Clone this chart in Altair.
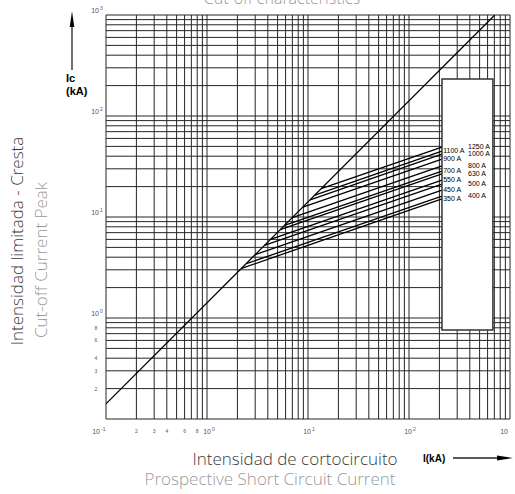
import altair as alt
import pandas as pd

# ---- data ----
mantissas = [1, 2, 3, 4, 5, 6, 7, 8, 9]
decades = [0.1, 1, 10, 100]
grid_vals = [round(m * d, 4) for d in decades for m in mantissas] + [1000]

diag_x = [0.1, 707]
diag_y = [0.1414, 1000]

ratings = ["350 A", "400 A", "450 A", "500 A", "550 A", "630 A",
           "700 A", "800 A", "900 A", "1000 A", "1100 A", "1250 A"]
knee_x = [2.2, 2.45, 3.0, 3.7, 4.25, 5.3, 5.85, 7.0, 8.9, 10.5, 11.7, 13.5]
knee_y = [3.1, 3.45, 4.25, 5.25, 6.0, 7.5, 8.25, 9.85, 12.5, 14.8, 16.5, 19.1]
end_x = [212] * 12
end_y = [15.1, 16.1, 18.5, 21.2, 23.2, 26.7, 28.5, 32.0, 37.5, 42.0, 45.0, 49.3]
label_x = [218, 384, 218, 384, 218, 384, 218, 384, 218, 384, 218, 384]

box_x = [212]; box_x2 = [677]; box_y = [0.76]; box_y2 = [232]

# major tick labels: value, exponent, pixel nudge of the label anchor
xmaj_vals = [0.1, 1, 10, 100, 1000]
xmaj_exp = ["-1", "0", "1", "2", ""]
xmaj_dx = [-6, 4, 3, 3, -2]
xminor_vals = [0.2, 0.3, 0.4, 0.6, 0.8]
xminor_text = ["2", "3", "4", "6", "8"]
ymaj_vals = [1000, 100, 10, 1]
ymaj_exp = ["3", "2", "1", "0"]
yminor_vals = [0.8, 0.6, 0.4, 0.3, 0.2]
yminor_text = ["8", "6", "4", "3", "2"]

# ---- tables ----
grid_df = pd.DataFrame({"v": grid_vals})
diag_df = pd.DataFrame({"x": diag_x, "y": diag_y})
rows = []
for r, kx, ky, ex, ey in zip(ratings, knee_x, knee_y, end_x, end_y):
    rows.append({"r": r, "x": kx, "y": ky, "o": 0})
    rows.append({"r": r, "x": ex, "y": ey, "o": 1})
curve_df = pd.DataFrame(rows)
lab_df = pd.DataFrame({"r": ratings, "x": label_x, "y": end_y})
box_df = pd.DataFrame({"x": box_x, "x2": box_x2, "y": box_y, "y2": box_y2})

xs = alt.Scale(type="log", domain=[0.1, 1000], nice=False)
ys = alt.Scale(type="log", domain=[0.1, 1000], nice=False)
gridc = "#262626"

gx = alt.Chart(grid_df).mark_rule(color=gridc, strokeWidth=1).encode(
    x=alt.X("v:Q", scale=xs, axis=None))
gy = alt.Chart(grid_df).mark_rule(color=gridc, strokeWidth=1).encode(
    y=alt.Y("v:Q", scale=ys, axis=None))

diag = alt.Chart(diag_df).mark_line(color="black", strokeWidth=1.3, clip=True).encode(
    x=alt.X("x:Q", scale=xs, axis=None), y=alt.Y("y:Q", scale=ys, axis=None))

curves = alt.Chart(curve_df).mark_line(color="black", strokeWidth=1.3, clip=True).encode(
    x=alt.X("x:Q", scale=xs, axis=None), y=alt.Y("y:Q", scale=ys, axis=None),
    detail="r:N", order="o:Q")

box = alt.Chart(box_df).mark_rect(fill="white", stroke="#333333", strokeWidth=1.5).encode(
    x=alt.X("x:Q", scale=xs, axis=None), x2="x2:Q",
    y=alt.Y("y:Q", scale=ys, axis=None), y2="y2:Q")

labs = alt.Chart(lab_df).mark_text(align="left", baseline="middle", fontSize=7,
                                   font="Liberation Sans", color="black").encode(
    x=alt.X("x:Q", scale=xs, axis=None), y=alt.Y("y:Q", scale=ys, axis=None), text="r:N")

tickc = "#555555"
tick_layers = []
for v, e, d in zip(xmaj_vals, xmaj_exp, xmaj_dx):
    df = pd.DataFrame({"v": [v], "b": ["10"], "e": [e]})
    tick_layers.append(alt.Chart(df).mark_text(
        align="right", baseline="middle", fontSize=7, font="Liberation Sans",
        color=tickc, dx=d).encode(
        x=alt.X("v:Q", scale=xs, axis=None), y=alt.value(417), text="b:N"))
    if e:
        tick_layers.append(alt.Chart(df).mark_text(
            align="left", baseline="middle", fontSize=5, font="Liberation Sans",
            color=tickc, dx=d + 1).encode(
            x=alt.X("v:Q", scale=xs, axis=None), y=alt.value(414), text="e:N"))
for v, e in zip(ymaj_vals, ymaj_exp):
    df = pd.DataFrame({"v": [v], "b": ["10"], "e": [e]})
    tick_layers.append(alt.Chart(df).mark_text(
        align="right", baseline="bottom", fontSize=7, font="Liberation Sans",
        color=tickc, dy=-1).encode(
        y=alt.Y("v:Q", scale=ys, axis=None), x=alt.value(-7), text="b:N"))
    tick_layers.append(alt.Chart(df).mark_text(
        align="left", baseline="bottom", fontSize=5, font="Liberation Sans",
        color=tickc, dy=-4).encode(
        y=alt.Y("v:Q", scale=ys, axis=None), x=alt.value(-6), text="e:N"))

xm = alt.Chart(pd.DataFrame({"v": xminor_vals, "t": xminor_text})).mark_text(
    align="center", baseline="middle", fontSize=5, font="Liberation Sans", color=tickc).encode(
    x=alt.X("v:Q", scale=xs, axis=None), y=alt.value(416), text="t:N")
ym = alt.Chart(pd.DataFrame({"v": yminor_vals, "t": yminor_text})).mark_text(
    align="center", baseline="middle", fontSize=5, font="Liberation Sans", color=tickc).encode(
    y=alt.Y("v:Q", scale=ys, axis=None), x=alt.value(-10), text="t:N")

def txt(s, x, y, size, color, angle=0, align="center", baseline="alphabetic",
        font="Open Sans", weight="normal"):
    kw = dict(align=align, baseline=baseline, fontSize=size, font=font,
              color=color, fontWeight=weight)
    if angle:
        kw["angle"] = angle
    return alt.Chart(pd.DataFrame({"t": [s]})).mark_text(**kw).encode(
        x=alt.value(x), y=alt.value(y), text="t:N")

dark = "#3a3a3a"
light = "#9a9a9a"
title = txt("Cut-off characteristics", 176, -11, 16, light, weight=300)
ylab1 = txt("Intensidad limitada - Cresta", -88, 226, 17, dark, angle=270, baseline="middle", weight=300)
ylab2 = txt("Cut-off Current Peak", -64, 245, 17, light, angle=270, baseline="middle", weight=300)
xlab1 = txt("Intensidad de cortocircuito", 189, 450, 17, dark, weight=300)
xlab2 = txt("Prospective Short Circuit Current", 164, 470, 17, light, weight=300)
ic1 = txt("Ic", -40, 67, 11, "black", align="left", font="Liberation Sans", weight="bold")
ic2 = txt("(kA)", -40, 80, 11, "black", align="left", font="Liberation Sans", weight="bold")
ika = txt("I(kA)", 317, 447, 10, "black", align="left", font="Liberation Sans", weight="bold")

up_shaft = alt.Chart(pd.DataFrame({"a": [0]})).mark_rule(color="#222", strokeWidth=1.3).encode(
    x=alt.value(-34), y=alt.value(10), y2=alt.value(55))
up_head = alt.Chart(pd.DataFrame({"a": [0]})).mark_point(
    shape="M0,-1L0.28,1L-0.28,1Z", filled=True, color="black", opacity=1, size=256).encode(
    x=alt.value(-34), y=alt.value(4))
rt_shaft = alt.Chart(pd.DataFrame({"a": [0]})).mark_rule(color="#222", strokeWidth=1.3).encode(
    x=alt.value(347), x2=alt.value(395), y=alt.value(443))
rt_head = alt.Chart(pd.DataFrame({"a": [0]})).mark_point(
    shape="M1,0L-1,-0.3L-1,0.3Z", filled=True, color="black", opacity=1, size=256).encode(
    x=alt.value(399), y=alt.value(443))

chart = alt.layer(
    gx, gy, diag, curves, box, labs, *tick_layers, xm, ym,
    title, ylab1, ylab2, xlab1, xlab2, ic1, ic2, ika,
    up_shaft, up_head, rt_shaft, rt_head
).properties(
    width=404, height=404,
    padding={"left": 106, "top": 15, "right": 5, "bottom": 75},
    autosize=alt.AutoSizeParams(type="none"),
    background="white",
).configure_view(stroke=None)

chart.save("out.html", embed_options={"renderer": "svg", "actions": False})
